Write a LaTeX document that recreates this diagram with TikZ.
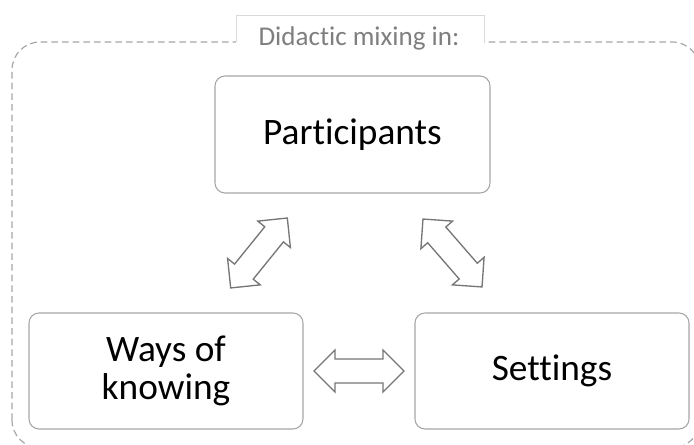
\documentclass[tikz,border=0pt]{standalone}
\usepackage{fontspec}
\setmainfont{Carlito}[Ligatures=NoCommon]
\usetikzlibrary{calc}

\definecolor{boxgray}{RGB}{166,166,166}
\definecolor{arrowgray}{RGB}{118,118,118}
\definecolor{titlegray}{RGB}{127,127,127}
\definecolor{tabgray}{RGB}{217,217,217}

\tikzset{
  box/.style={draw=boxgray,line width=0.8pt,rounded corners=7.5pt,
    minimum width=205.5pt,minimum height=87pt,align=center,
    font=\fontsize{28}{28.5}\selectfont},
  blockarrow/.style={draw=arrowgray,line width=1pt,fill=white,line join=miter},
  dblarrow/.pic={
    \draw[blockarrow] (-45,0) -- (-24,21) -- (-24,12) -- (24,12) -- (24,21)
      -- (45,0) -- (24,-21) -- (24,-12) -- (-24,-12) -- (-24,-21) -- cycle;
  }
}

\begin{document}
\begin{tikzpicture}[x=0.75pt,y=0.75pt]
\useasboundingbox (0,0) rectangle (694,445);
% dashed frame
\draw[boxgray,line width=0.9pt,dash pattern=on 5pt off 3pt,rounded corners=21pt]
  (12,-3) rectangle (700,403);
% heading tab
\fill[white] (236,396) rectangle (484,429);
\draw[tabgray,line width=0.75pt] (236,403) -- (236,429) -- (484,429) -- (484,403);
\node[anchor=base,text=titlegray,font=\fontsize{20.3}{21}\selectfont] (head)
  at (359,399) {Didactic mixing in:};

\node[box,minimum width=206.25pt,minimum height=87.75pt] (part) at (352.5,310.5) {Participants};
\node[box] (ways) at (166,74) {Ways of\\knowing};
\node[box] (sett) at (552,74) {Settings};

% arrows between the boxes
\coordinate (pw) at ($(part.south west)!0.5!(ways.north east)$);
\coordinate (ps) at ($(part.south east)!0.5!(sett.north west)$);
\coordinate (ws) at ($(ways.east)!0.5!(sett.west)$);
\pic[rotate=51] at (pw) {dblarrow};
\pic[rotate=-49] at (ps) {dblarrow};
\pic at (ws) {dblarrow};
\end{tikzpicture}
\end{document}
